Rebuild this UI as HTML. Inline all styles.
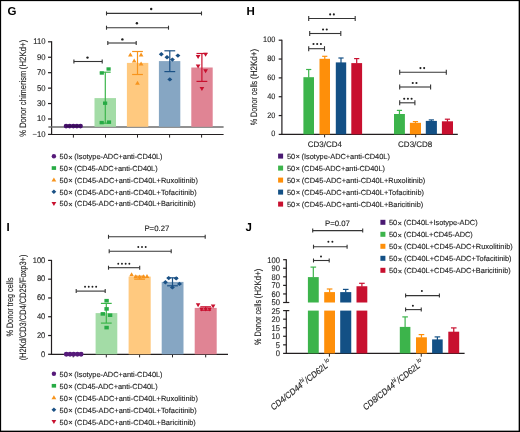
<!DOCTYPE html>
<html><head><meta charset="utf-8"><title>Figure</title>
<style>
html,body{margin:0;padding:0;background:#fff;}
body{width:520px;height:432px;overflow:hidden;}
svg{display:block;font-family:"Liberation Sans", sans-serif;will-change:transform;text-rendering:geometricPrecision;}
</style></head>
<body>
<svg width="520" height="432" viewBox="0 0 520 432">
<rect width="520" height="432" fill="#fff"/>
<text x="7.6" y="15.3" font-size="11.5" fill="#000" font-weight="bold">G</text>
<line x1="51.6" y1="41.31" x2="51.6" y2="134.9" stroke="#231f20" stroke-width="1.2"/>
<line x1="48" y1="41.81" x2="51.6" y2="41.81" stroke="#231f20" stroke-width="1.2"/>
<text x="0" y="0" font-size="8.3" transform="translate(45.6 44.31) scale(0.93 1)" text-anchor="end" fill="#1e1e1e" stroke="#1e1e1e" stroke-width="0.12">110</text>
<line x1="48" y1="57.25" x2="51.6" y2="57.25" stroke="#231f20" stroke-width="1.2"/>
<text x="0" y="0" font-size="8.3" transform="translate(45.6 59.75) scale(0.93 1)" text-anchor="end" fill="#1e1e1e" stroke="#1e1e1e" stroke-width="0.12">90</text>
<line x1="48" y1="72.68" x2="51.6" y2="72.68" stroke="#231f20" stroke-width="1.2"/>
<text x="0" y="0" font-size="8.3" transform="translate(45.6 75.18) scale(0.93 1)" text-anchor="end" fill="#1e1e1e" stroke="#1e1e1e" stroke-width="0.12">70</text>
<line x1="48" y1="88.12" x2="51.6" y2="88.12" stroke="#231f20" stroke-width="1.2"/>
<text x="0" y="0" font-size="8.3" transform="translate(45.6 90.62) scale(0.93 1)" text-anchor="end" fill="#1e1e1e" stroke="#1e1e1e" stroke-width="0.12">50</text>
<line x1="48" y1="103.55" x2="51.6" y2="103.55" stroke="#231f20" stroke-width="1.2"/>
<text x="0" y="0" font-size="8.3" transform="translate(45.6 106.05) scale(0.93 1)" text-anchor="end" fill="#1e1e1e" stroke="#1e1e1e" stroke-width="0.12">30</text>
<line x1="48" y1="118.98" x2="51.6" y2="118.98" stroke="#231f20" stroke-width="1.2"/>
<text x="0" y="0" font-size="8.3" transform="translate(45.6 121.48) scale(0.93 1)" text-anchor="end" fill="#1e1e1e" stroke="#1e1e1e" stroke-width="0.12">10</text>
<line x1="48" y1="134.42" x2="51.6" y2="134.42" stroke="#231f20" stroke-width="1.2"/>
<text x="0" y="0" font-size="8.3" transform="translate(45.6 136.92) scale(0.93 1)" text-anchor="end" fill="#1e1e1e" stroke="#1e1e1e" stroke-width="0.12">−10</text>
<line x1="51" y1="134.5" x2="223.6" y2="134.5" stroke="#231f20" stroke-width="1.2"/>
<line x1="73.4" y1="134.5" x2="73.4" y2="137.6" stroke="#231f20" stroke-width="1"/>
<line x1="105.5" y1="134.5" x2="105.5" y2="137.6" stroke="#231f20" stroke-width="1"/>
<line x1="137.5" y1="134.5" x2="137.5" y2="137.6" stroke="#231f20" stroke-width="1"/>
<line x1="169.6" y1="134.5" x2="169.6" y2="137.6" stroke="#231f20" stroke-width="1"/>
<line x1="201.6" y1="134.5" x2="201.6" y2="137.6" stroke="#231f20" stroke-width="1"/>
<line x1="48.4" y1="127" x2="223.6" y2="127" stroke="#6c6c6c" stroke-width="1.6"/>
<text x="25.9" y="136.7" font-size="9.3" fill="#1e1e1e" textLength="66.1" lengthAdjust="spacingAndGlyphs" transform="rotate(-90 25.9 136.7)" stroke="#1e1e1e" stroke-width="0.12">% Donor chimerism</text>
<text x="25.9" y="69.2" font-size="9.3" fill="#1e1e1e" textLength="29.5" lengthAdjust="spacingAndGlyphs" transform="rotate(-90 25.9 69.2)" stroke="#1e1e1e" stroke-width="0.12">(H2Kd+)</text>
<rect x="94.5" y="98.1" width="21.5" height="28.7" fill="#a3dca6"/>
<rect x="126.9" y="62.9" width="21.4" height="63.9" fill="#ffc97f"/>
<rect x="158.9" y="61.1" width="21.4" height="65.7" fill="#86a6c3"/>
<rect x="191.3" y="67.5" width="21.4" height="59.3" fill="#e08494"/>
<line x1="105.3" y1="72.2" x2="105.3" y2="123.2" stroke="#3cb54b" stroke-width="1.2"/>
<line x1="99.9" y1="72.2" x2="110.7" y2="72.2" stroke="#3cb54b" stroke-width="1.2"/>
<line x1="99.9" y1="123.2" x2="110.7" y2="123.2" stroke="#3cb54b" stroke-width="1.2"/>
<line x1="137.5" y1="51.5" x2="137.5" y2="74.5" stroke="#f7941d" stroke-width="1.2"/>
<line x1="132.1" y1="51.5" x2="142.9" y2="51.5" stroke="#f7941d" stroke-width="1.2"/>
<line x1="132.1" y1="74.5" x2="142.9" y2="74.5" stroke="#f7941d" stroke-width="1.2"/>
<line x1="169.8" y1="50.8" x2="169.8" y2="71.6" stroke="#1b5185" stroke-width="1.2"/>
<line x1="164.4" y1="50.8" x2="175.2" y2="50.8" stroke="#1b5185" stroke-width="1.2"/>
<line x1="164.4" y1="71.6" x2="175.2" y2="71.6" stroke="#1b5185" stroke-width="1.2"/>
<line x1="201.9" y1="53.5" x2="201.9" y2="81.4" stroke="#c8102e" stroke-width="1.2"/>
<line x1="196.5" y1="53.5" x2="207.3" y2="53.5" stroke="#c8102e" stroke-width="1.2"/>
<line x1="196.5" y1="81.4" x2="207.3" y2="81.4" stroke="#c8102e" stroke-width="1.2"/>
<circle cx="66.1" cy="126.1" r="2.4" fill="#46106c"/>
<circle cx="69.7" cy="126.1" r="2.4" fill="#46106c"/>
<circle cx="73.3" cy="126.1" r="2.4" fill="#46106c"/>
<circle cx="76.9" cy="126.1" r="2.4" fill="#46106c"/>
<circle cx="80.5" cy="126.1" r="2.4" fill="#46106c"/>
<line x1="66" y1="126.2" x2="80.4" y2="126.2" stroke="#2a0a40" stroke-width="0.8"/>
<rect x="106.5" y="67.3" width="4.2" height="3.4" fill="#27ab45"/>
<rect x="99.7" y="71.3" width="4.2" height="3.4" fill="#27ab45"/>
<rect x="103" y="101.5" width="4.2" height="3.4" fill="#27ab45"/>
<rect x="99.6" y="120.9" width="4.2" height="3.4" fill="#27ab45"/>
<rect x="106.9" y="120.4" width="4.2" height="3.4" fill="#27ab45"/>
<polygon points="130.4,52.6 128.05,56.6 132.75,56.6" fill="#f7941d"/>
<polygon points="141.1,52.6 138.75,56.6 143.45,56.6" fill="#f7941d"/>
<polygon points="134.2,58.6 131.85,62.6 136.55,62.6" fill="#f7941d"/>
<polygon points="141.1,61.6 138.75,65.6 143.45,65.6" fill="#f7941d"/>
<polygon points="137.5,80.8 135.15,84.8 139.85,84.8" fill="#f7941d"/>
<polygon points="161.3,52.1 163.8,54.3 161.3,56.5 158.8,54.3" fill="#1b5185"/>
<polygon points="177.9,53.4 180.4,55.6 177.9,57.8 175.4,55.6" fill="#1b5185"/>
<polygon points="167,55 169.5,57.2 167,59.4 164.5,57.2" fill="#1b5185"/>
<polygon points="172.4,57.4 174.9,59.6 172.4,61.8 169.9,59.6" fill="#1b5185"/>
<polygon points="169.8,77.2 172.3,79.4 169.8,81.6 167.3,79.4" fill="#1b5185"/>
<polygon points="198.1,59.1 195.75,55.1 200.45,55.1" fill="#c8102e"/>
<polygon points="205.6,56.7 203.25,52.7 207.95,52.7" fill="#c8102e"/>
<polygon points="198.1,68.5 195.75,64.5 200.45,64.5" fill="#c8102e"/>
<polygon points="205.6,73.2 203.25,69.2 207.95,69.2" fill="#c8102e"/>
<polygon points="201.9,91 199.55,87 204.25,87" fill="#c8102e"/>
<line x1="73.9" y1="61.5" x2="102.2" y2="61.5" stroke="#343434" stroke-width="1.1"/>
<line x1="73.9" y1="59.5" x2="73.9" y2="63.5" stroke="#343434" stroke-width="1.1"/>
<line x1="102.2" y1="59.5" x2="102.2" y2="63.5" stroke="#343434" stroke-width="1.1"/>
<circle cx="87.5" cy="57.6" r="1.2" fill="#1e1e1e"/>
<line x1="107.8" y1="43" x2="136.2" y2="43" stroke="#343434" stroke-width="1.1"/>
<line x1="107.8" y1="41" x2="107.8" y2="45" stroke="#343434" stroke-width="1.1"/>
<line x1="136.2" y1="41" x2="136.2" y2="45" stroke="#343434" stroke-width="1.1"/>
<circle cx="122.4" cy="39.4" r="1.2" fill="#1e1e1e"/>
<line x1="106.5" y1="27.7" x2="168.5" y2="27.7" stroke="#343434" stroke-width="1.1"/>
<line x1="106.5" y1="25.7" x2="106.5" y2="29.7" stroke="#343434" stroke-width="1.1"/>
<line x1="168.5" y1="25.7" x2="168.5" y2="29.7" stroke="#343434" stroke-width="1.1"/>
<circle cx="136.9" cy="23.2" r="1.2" fill="#1e1e1e"/>
<line x1="106.5" y1="13.4" x2="201.5" y2="13.4" stroke="#343434" stroke-width="1.1"/>
<line x1="106.5" y1="11.4" x2="106.5" y2="15.4" stroke="#343434" stroke-width="1.1"/>
<line x1="201.5" y1="11.4" x2="201.5" y2="15.4" stroke="#343434" stroke-width="1.1"/>
<circle cx="151.2" cy="9" r="1.2" fill="#1e1e1e"/>
<circle cx="53.9" cy="156.2" r="2.2" fill="#561a7a"/>
<text x="59.6" y="159" font-size="7.42" fill="#1e1e1e" stroke="#1e1e1e" stroke-width="0.12" letter-spacing="-0.02">50<tspan font-size="7.6" dy="0.5" dx="0.4">×</tspan><tspan dy="-0.5" dx="-0.35"> (Isotype-ADC+anti-CD40L)</tspan></text>
<rect x="51.7" y="166.2" width="4.4" height="3.7" fill="#27ab45"/>
<text x="59.6" y="170.85" font-size="7.42" fill="#1e1e1e" stroke="#1e1e1e" stroke-width="0.12" letter-spacing="-0.02">50<tspan font-size="7.6" dy="0.5" dx="0.4">×</tspan><tspan dy="-0.5" dx="-0.35"> (CD45-ADC+anti-CD40L)</tspan></text>
<polygon points="53.9,177.5 51.5,181.5 56.3,181.5" fill="#f7941d"/>
<text x="59.6" y="182.7" font-size="7.42" fill="#1e1e1e" stroke="#1e1e1e" stroke-width="0.12" letter-spacing="0.035">50<tspan font-size="7.6" dy="0.5" dx="0.4">×</tspan><tspan dy="-0.5" dx="-0.35"> (CD45-ADC+anti-CD40L+Ruxolitinib)</tspan></text>
<polygon points="53.9,189.55 56.3,191.75 53.9,193.95 51.5,191.75" fill="#1b5185"/>
<text x="59.6" y="194.55" font-size="7.42" fill="#1e1e1e" stroke="#1e1e1e" stroke-width="0.12" letter-spacing="0.035">50<tspan font-size="7.6" dy="0.5" dx="0.4">×</tspan><tspan dy="-0.5" dx="-0.35"> (CD45-ADC+anti-CD40L+Tofacitinib)</tspan></text>
<polygon points="53.9,206 51.5,202 56.3,202" fill="#c8102e"/>
<text x="59.6" y="206.4" font-size="7.42" fill="#1e1e1e" stroke="#1e1e1e" stroke-width="0.12" letter-spacing="0.035">50<tspan font-size="7.6" dy="0.5" dx="0.4">×</tspan><tspan dy="-0.5" dx="-0.35"> (CD45-ADC+anti-CD40L+Baricitinib)</tspan></text>
<text x="246.5" y="15.3" font-size="11.5" fill="#000" font-weight="bold">H</text>
<line x1="281.9" y1="39.7" x2="281.9" y2="135" stroke="#231f20" stroke-width="1.2"/>
<line x1="278.7" y1="40.2" x2="281.9" y2="40.2" stroke="#231f20" stroke-width="1.2"/>
<text x="0" y="0" font-size="7.9" transform="translate(275.3 42.2) scale(0.93 1)" text-anchor="end" fill="#1e1e1e" stroke="#1e1e1e" stroke-width="0.12">100</text>
<line x1="278.7" y1="59.04" x2="281.9" y2="59.04" stroke="#231f20" stroke-width="1.2"/>
<text x="0" y="0" font-size="7.9" transform="translate(275.3 61.04) scale(0.93 1)" text-anchor="end" fill="#1e1e1e" stroke="#1e1e1e" stroke-width="0.12">80</text>
<line x1="278.7" y1="77.88" x2="281.9" y2="77.88" stroke="#231f20" stroke-width="1.2"/>
<text x="0" y="0" font-size="7.9" transform="translate(275.3 79.88) scale(0.93 1)" text-anchor="end" fill="#1e1e1e" stroke="#1e1e1e" stroke-width="0.12">60</text>
<line x1="278.7" y1="96.72" x2="281.9" y2="96.72" stroke="#231f20" stroke-width="1.2"/>
<text x="0" y="0" font-size="7.9" transform="translate(275.3 98.72) scale(0.93 1)" text-anchor="end" fill="#1e1e1e" stroke="#1e1e1e" stroke-width="0.12">40</text>
<line x1="278.7" y1="115.56" x2="281.9" y2="115.56" stroke="#231f20" stroke-width="1.2"/>
<text x="0" y="0" font-size="7.9" transform="translate(275.3 117.56) scale(0.93 1)" text-anchor="end" fill="#1e1e1e" stroke="#1e1e1e" stroke-width="0.12">20</text>
<line x1="278.7" y1="134.4" x2="281.9" y2="134.4" stroke="#231f20" stroke-width="1.2"/>
<text x="0" y="0" font-size="7.9" transform="translate(275.3 136.4) scale(0.93 1)" text-anchor="end" fill="#1e1e1e" stroke="#1e1e1e" stroke-width="0.12">0</text>
<line x1="281.3" y1="134.4" x2="457.8" y2="134.4" stroke="#231f20" stroke-width="1.2"/>
<line x1="324.6" y1="134.4" x2="324.6" y2="137.4" stroke="#231f20" stroke-width="1"/>
<line x1="415.7" y1="134.4" x2="415.7" y2="137.4" stroke="#231f20" stroke-width="1"/>
<text x="324.8" y="146.9" font-size="8" text-anchor="middle" fill="#1e1e1e" stroke="#1e1e1e" stroke-width="0.12">CD3/CD4</text>
<text x="415.2" y="146.9" font-size="8" text-anchor="middle" fill="#1e1e1e" stroke="#1e1e1e" stroke-width="0.12">CD3/CD8</text>
<text x="257.3" y="125.3" font-size="9.3" fill="#1e1e1e" textLength="44.5" lengthAdjust="spacingAndGlyphs" transform="rotate(-90 257.3 125.3)" stroke="#1e1e1e" stroke-width="0.12">% Donor cells</text>
<text x="257.3" y="79" font-size="9.3" fill="#1e1e1e" textLength="30.2" lengthAdjust="spacingAndGlyphs" transform="rotate(-90 257.3 79)" stroke="#1e1e1e" stroke-width="0.12">(H2Kd+)</text>
<rect x="303.4" y="77.2" width="10.6" height="57.2" fill="#3cb44b"/>
<line x1="308.7" y1="69.5" x2="308.7" y2="77.7" stroke="#3cb44b" stroke-width="1.2"/>
<line x1="306.1" y1="69.5" x2="311.3" y2="69.5" stroke="#3cb44b" stroke-width="1.2"/>
<rect x="319.5" y="58.8" width="10.5" height="75.6" fill="#fe8f0a"/>
<line x1="324.75" y1="56.3" x2="324.75" y2="59.3" stroke="#fe8f0a" stroke-width="1.2"/>
<line x1="322.15" y1="56.3" x2="327.35" y2="56.3" stroke="#fe8f0a" stroke-width="1.2"/>
<rect x="335.8" y="62.4" width="10.4" height="72" fill="#135085"/>
<line x1="341" y1="58" x2="341" y2="62.9" stroke="#135085" stroke-width="1.2"/>
<line x1="338.4" y1="58" x2="343.6" y2="58" stroke="#135085" stroke-width="1.2"/>
<rect x="351.3" y="63.1" width="10.8" height="71.3" fill="#c8102f"/>
<line x1="356.7" y1="58.6" x2="356.7" y2="63.6" stroke="#c8102f" stroke-width="1.2"/>
<line x1="354.1" y1="58.6" x2="359.3" y2="58.6" stroke="#c8102f" stroke-width="1.2"/>
<rect x="394" y="114" width="10.9" height="20.4" fill="#3cb44b"/>
<line x1="399.45" y1="110.4" x2="399.45" y2="114.5" stroke="#3cb44b" stroke-width="1.2"/>
<line x1="396.85" y1="110.4" x2="402.05" y2="110.4" stroke="#3cb44b" stroke-width="1.2"/>
<rect x="409.9" y="122.8" width="11.1" height="11.6" fill="#fe8f0a"/>
<line x1="415.45" y1="121.6" x2="415.45" y2="123.3" stroke="#fe8f0a" stroke-width="1.2"/>
<line x1="412.85" y1="121.6" x2="418.05" y2="121.6" stroke="#fe8f0a" stroke-width="1.2"/>
<rect x="425.8" y="120.9" width="11.1" height="13.5" fill="#135085"/>
<line x1="431.35" y1="119.9" x2="431.35" y2="121.4" stroke="#135085" stroke-width="1.2"/>
<line x1="428.75" y1="119.9" x2="433.95" y2="119.9" stroke="#135085" stroke-width="1.2"/>
<rect x="441.9" y="121.3" width="11.1" height="13.1" fill="#c8102f"/>
<line x1="447.45" y1="119.2" x2="447.45" y2="121.8" stroke="#c8102f" stroke-width="1.2"/>
<line x1="444.85" y1="119.2" x2="450.05" y2="119.2" stroke="#c8102f" stroke-width="1.2"/>
<line x1="308.7" y1="48.7" x2="324.5" y2="48.7" stroke="#343434" stroke-width="1.1"/>
<line x1="308.7" y1="46.2" x2="308.7" y2="51.2" stroke="#343434" stroke-width="1.1"/>
<line x1="324.5" y1="46.2" x2="324.5" y2="51.2" stroke="#343434" stroke-width="1.1"/>
<circle cx="313.5" cy="44" r="1.05" fill="#1e1e1e"/>
<circle cx="317.2" cy="44" r="1.05" fill="#1e1e1e"/>
<circle cx="320.9" cy="44" r="1.05" fill="#1e1e1e"/>
<line x1="309.7" y1="33.5" x2="340.8" y2="33.5" stroke="#343434" stroke-width="1.1"/>
<line x1="309.7" y1="31" x2="309.7" y2="36" stroke="#343434" stroke-width="1.1"/>
<line x1="340.8" y1="31" x2="340.8" y2="36" stroke="#343434" stroke-width="1.1"/>
<circle cx="323.05" cy="29.5" r="1.05" fill="#1e1e1e"/>
<circle cx="326.75" cy="29.5" r="1.05" fill="#1e1e1e"/>
<line x1="308.7" y1="18.5" x2="355.2" y2="18.5" stroke="#343434" stroke-width="1.1"/>
<line x1="308.7" y1="16" x2="308.7" y2="21" stroke="#343434" stroke-width="1.1"/>
<line x1="355.2" y1="16" x2="355.2" y2="21" stroke="#343434" stroke-width="1.1"/>
<circle cx="330.15" cy="14.4" r="1.05" fill="#1e1e1e"/>
<circle cx="333.85" cy="14.4" r="1.05" fill="#1e1e1e"/>
<line x1="399.7" y1="102.8" x2="414.9" y2="102.8" stroke="#343434" stroke-width="1.1"/>
<line x1="399.7" y1="100.3" x2="399.7" y2="105.3" stroke="#343434" stroke-width="1.1"/>
<line x1="414.9" y1="100.3" x2="414.9" y2="105.3" stroke="#343434" stroke-width="1.1"/>
<circle cx="404.2" cy="98.7" r="1.05" fill="#1e1e1e"/>
<circle cx="407.9" cy="98.7" r="1.05" fill="#1e1e1e"/>
<circle cx="411.6" cy="98.7" r="1.05" fill="#1e1e1e"/>
<line x1="399.7" y1="87" x2="430.6" y2="87" stroke="#343434" stroke-width="1.1"/>
<line x1="399.7" y1="84.5" x2="399.7" y2="89.5" stroke="#343434" stroke-width="1.1"/>
<line x1="430.6" y1="84.5" x2="430.6" y2="89.5" stroke="#343434" stroke-width="1.1"/>
<circle cx="412.75" cy="83" r="1.05" fill="#1e1e1e"/>
<circle cx="416.45" cy="83" r="1.05" fill="#1e1e1e"/>
<line x1="399.7" y1="72.2" x2="446.3" y2="72.2" stroke="#343434" stroke-width="1.1"/>
<line x1="399.7" y1="69.7" x2="399.7" y2="74.7" stroke="#343434" stroke-width="1.1"/>
<line x1="446.3" y1="69.7" x2="446.3" y2="74.7" stroke="#343434" stroke-width="1.1"/>
<circle cx="420.45" cy="68.1" r="1.05" fill="#1e1e1e"/>
<circle cx="424.15" cy="68.1" r="1.05" fill="#1e1e1e"/>
<rect x="278.1" y="153.6" width="5" height="5" fill="#4a1a72"/>
<text x="286.9" y="158.9" font-size="7.42" fill="#1e1e1e" stroke="#1e1e1e" stroke-width="0.12" letter-spacing="-0.02">50<tspan font-size="7.6" dy="0.5" dx="0.4">×</tspan><tspan dy="-0.5" dx="-0.35"> (Isotype-ADC+anti-CD40L)</tspan></text>
<rect x="278.1" y="165.6" width="5" height="5" fill="#3cb44b"/>
<text x="286.9" y="170.9" font-size="7.42" fill="#1e1e1e" stroke="#1e1e1e" stroke-width="0.12" letter-spacing="-0.02">50<tspan font-size="7.6" dy="0.5" dx="0.4">×</tspan><tspan dy="-0.5" dx="-0.35"> (CD45-ADC+anti-CD40L)</tspan></text>
<rect x="278.1" y="177.6" width="5" height="5" fill="#fe8f0a"/>
<text x="286.9" y="182.9" font-size="7.42" fill="#1e1e1e" stroke="#1e1e1e" stroke-width="0.12" letter-spacing="0.038">50<tspan font-size="7.6" dy="0.5" dx="0.4">×</tspan><tspan dy="-0.5" dx="-0.35"> (CD45-ADC+anti-CD40L+Ruxolitinib)</tspan></text>
<rect x="278.1" y="189.6" width="5" height="5" fill="#135085"/>
<text x="286.9" y="194.9" font-size="7.42" fill="#1e1e1e" stroke="#1e1e1e" stroke-width="0.12" letter-spacing="0.038">50<tspan font-size="7.6" dy="0.5" dx="0.4">×</tspan><tspan dy="-0.5" dx="-0.35"> (CD45-ADC+anti-CD40L+Tofacitinib)</tspan></text>
<rect x="278.1" y="201.6" width="5" height="5" fill="#c8102f"/>
<text x="286.9" y="206.9" font-size="7.42" fill="#1e1e1e" stroke="#1e1e1e" stroke-width="0.12" letter-spacing="0.038">50<tspan font-size="7.6" dy="0.5" dx="0.4">×</tspan><tspan dy="-0.5" dx="-0.35"> (CD45-ADC+anti-CD40L+Baricitinib)</tspan></text>
<text x="6.4" y="230.8" font-size="11.5" fill="#000" font-weight="bold">I</text>
<line x1="51.5" y1="259.9" x2="51.5" y2="354.9" stroke="#231f20" stroke-width="1.2"/>
<line x1="48.1" y1="260.4" x2="51.5" y2="260.4" stroke="#231f20" stroke-width="1.2"/>
<text x="0" y="0" font-size="8.1" transform="translate(45.3 262.6) scale(0.93 1)" text-anchor="end" fill="#1e1e1e" stroke="#1e1e1e" stroke-width="0.12">100</text>
<line x1="48.1" y1="279.18" x2="51.5" y2="279.18" stroke="#231f20" stroke-width="1.2"/>
<text x="0" y="0" font-size="8.1" transform="translate(45.3 281.38) scale(0.93 1)" text-anchor="end" fill="#1e1e1e" stroke="#1e1e1e" stroke-width="0.12">80</text>
<line x1="48.1" y1="297.96" x2="51.5" y2="297.96" stroke="#231f20" stroke-width="1.2"/>
<text x="0" y="0" font-size="8.1" transform="translate(45.3 300.16) scale(0.93 1)" text-anchor="end" fill="#1e1e1e" stroke="#1e1e1e" stroke-width="0.12">60</text>
<line x1="48.1" y1="316.74" x2="51.5" y2="316.74" stroke="#231f20" stroke-width="1.2"/>
<text x="0" y="0" font-size="8.1" transform="translate(45.3 318.94) scale(0.93 1)" text-anchor="end" fill="#1e1e1e" stroke="#1e1e1e" stroke-width="0.12">40</text>
<line x1="48.1" y1="335.52" x2="51.5" y2="335.52" stroke="#231f20" stroke-width="1.2"/>
<text x="0" y="0" font-size="8.1" transform="translate(45.3 337.72) scale(0.93 1)" text-anchor="end" fill="#1e1e1e" stroke="#1e1e1e" stroke-width="0.12">20</text>
<line x1="48.1" y1="354.3" x2="51.5" y2="354.3" stroke="#231f20" stroke-width="1.2"/>
<text x="0" y="0" font-size="8.1" transform="translate(45.3 356.5) scale(0.93 1)" text-anchor="end" fill="#1e1e1e" stroke="#1e1e1e" stroke-width="0.12">0</text>
<line x1="50.9" y1="354.3" x2="228" y2="354.3" stroke="#231f20" stroke-width="1.2"/>
<line x1="73.2" y1="354.3" x2="73.2" y2="357.4" stroke="#231f20" stroke-width="1"/>
<line x1="106.3" y1="354.3" x2="106.3" y2="357.4" stroke="#231f20" stroke-width="1"/>
<line x1="139.6" y1="354.3" x2="139.6" y2="357.4" stroke="#231f20" stroke-width="1"/>
<line x1="172.5" y1="354.3" x2="172.5" y2="357.4" stroke="#231f20" stroke-width="1"/>
<line x1="205.7" y1="354.3" x2="205.7" y2="357.4" stroke="#231f20" stroke-width="1"/>
<text x="13" y="307" font-size="9.3" text-anchor="middle" fill="#1e1e1e" textLength="59.1" lengthAdjust="spacingAndGlyphs" transform="rotate(-90 13 307)" stroke="#1e1e1e" stroke-width="0.12">% Donor treg cells</text>
<text x="26.5" y="307.45" font-size="9.3" text-anchor="middle" fill="#1e1e1e" textLength="105.7" lengthAdjust="spacingAndGlyphs" transform="rotate(-90 26.5 307.45)" stroke="#1e1e1e" stroke-width="0.12">(H2Kd/CD3/CD4/CD25/Foxp3+)</text>
<rect x="95.6" y="313.1" width="21.7" height="41.2" fill="#a3dca6"/>
<rect x="128.6" y="276.6" width="22.1" height="77.7" fill="#ffc97f"/>
<rect x="161.7" y="281.9" width="21.8" height="72.4" fill="#86a6c3"/>
<rect x="194.7" y="307.9" width="22" height="46.4" fill="#e08494"/>
<line x1="106.3" y1="303.4" x2="106.3" y2="323.1" stroke="#3cb54b" stroke-width="1.2"/>
<line x1="100.9" y1="303.4" x2="111.7" y2="303.4" stroke="#3cb54b" stroke-width="1.2"/>
<line x1="100.9" y1="323.1" x2="111.7" y2="323.1" stroke="#3cb54b" stroke-width="1.2"/>
<line x1="139.6" y1="276.2" x2="139.6" y2="279.2" stroke="#f7941d" stroke-width="1.2"/>
<line x1="134.2" y1="276.2" x2="145" y2="276.2" stroke="#f7941d" stroke-width="1.2"/>
<line x1="134.2" y1="279.2" x2="145" y2="279.2" stroke="#f7941d" stroke-width="1.2"/>
<line x1="172.5" y1="277.8" x2="172.5" y2="285.8" stroke="#1b5185" stroke-width="1.2"/>
<line x1="167.1" y1="277.8" x2="177.9" y2="277.8" stroke="#1b5185" stroke-width="1.2"/>
<line x1="167.1" y1="285.8" x2="177.9" y2="285.8" stroke="#1b5185" stroke-width="1.2"/>
<line x1="205.7" y1="306.8" x2="205.7" y2="310.2" stroke="#c8102e" stroke-width="1.2"/>
<line x1="200.3" y1="306.8" x2="211.1" y2="306.8" stroke="#c8102e" stroke-width="1.2"/>
<line x1="200.3" y1="310.2" x2="211.1" y2="310.2" stroke="#c8102e" stroke-width="1.2"/>
<circle cx="66.3" cy="354.3" r="2.45" fill="#561a7a"/>
<circle cx="70" cy="354.3" r="2.45" fill="#561a7a"/>
<circle cx="73.7" cy="354.3" r="2.45" fill="#561a7a"/>
<circle cx="77.4" cy="354.3" r="2.45" fill="#561a7a"/>
<circle cx="81.1" cy="354.3" r="2.45" fill="#561a7a"/>
<rect x="104.4" y="298.9" width="4.4" height="3.6" fill="#27ab45"/>
<rect x="104.4" y="307.1" width="4.4" height="3.6" fill="#27ab45"/>
<rect x="100.6" y="312.1" width="4.4" height="3.6" fill="#27ab45"/>
<rect x="107.9" y="313.4" width="4.4" height="3.6" fill="#27ab45"/>
<rect x="104.4" y="325.8" width="4.4" height="3.6" fill="#27ab45"/>
<polygon points="131.6,272.3 129.3,276.3 133.9,276.3" fill="#f7941d"/>
<polygon points="135.8,274.2 133.5,278.2 138.1,278.2" fill="#f7941d"/>
<polygon points="139.6,274.6 137.3,278.6 141.9,278.6" fill="#f7941d"/>
<polygon points="143.4,274.2 141.1,278.2 145.7,278.2" fill="#f7941d"/>
<polygon points="147,273.9 144.7,277.9 149.3,277.9" fill="#f7941d"/>
<polygon points="168.7,275.9 171.2,278.1 168.7,280.3 166.2,278.1" fill="#1b5185"/>
<polygon points="176.2,276.2 178.7,278.4 176.2,280.6 173.7,278.4" fill="#1b5185"/>
<polygon points="165.4,280 167.9,282.2 165.4,284.4 162.9,282.2" fill="#1b5185"/>
<polygon points="179.5,281.7 182,283.9 179.5,286.1 177,283.9" fill="#1b5185"/>
<polygon points="172.4,285.2 174.9,287.4 172.4,289.6 169.9,287.4" fill="#1b5185"/>
<polygon points="198.1,307.3 195.8,303.3 200.4,303.3" fill="#c8102e"/>
<polygon points="213.1,308.5 210.8,304.5 215.4,304.5" fill="#c8102e"/>
<polygon points="201.6,311.4 199.3,307.4 203.9,307.4" fill="#c8102e"/>
<polygon points="205.7,311.6 203.4,307.6 208,307.6" fill="#c8102e"/>
<polygon points="209.6,311.4 207.3,307.4 211.9,307.4" fill="#c8102e"/>
<line x1="76.2" y1="291.1" x2="105.2" y2="291.1" stroke="#343434" stroke-width="1.1"/>
<line x1="76.2" y1="289.1" x2="76.2" y2="293.1" stroke="#343434" stroke-width="1.1"/>
<line x1="105.2" y1="289.1" x2="105.2" y2="293.1" stroke="#343434" stroke-width="1.1"/>
<circle cx="85.05" cy="286.7" r="0.95" fill="#1e1e1e"/>
<circle cx="88.75" cy="286.7" r="0.95" fill="#1e1e1e"/>
<circle cx="92.45" cy="286.7" r="0.95" fill="#1e1e1e"/>
<circle cx="96.15" cy="286.7" r="0.95" fill="#1e1e1e"/>
<line x1="108.5" y1="267.7" x2="139.7" y2="267.7" stroke="#343434" stroke-width="1.1"/>
<line x1="108.5" y1="265.7" x2="108.5" y2="269.7" stroke="#343434" stroke-width="1.1"/>
<line x1="139.7" y1="265.7" x2="139.7" y2="269.7" stroke="#343434" stroke-width="1.1"/>
<circle cx="118.25" cy="263.8" r="0.95" fill="#1e1e1e"/>
<circle cx="121.95" cy="263.8" r="0.95" fill="#1e1e1e"/>
<circle cx="125.65" cy="263.8" r="0.95" fill="#1e1e1e"/>
<circle cx="129.35" cy="263.8" r="0.95" fill="#1e1e1e"/>
<line x1="109.2" y1="251.2" x2="171.2" y2="251.2" stroke="#343434" stroke-width="1.1"/>
<line x1="109.2" y1="249.2" x2="109.2" y2="253.2" stroke="#343434" stroke-width="1.1"/>
<line x1="171.2" y1="249.2" x2="171.2" y2="253.2" stroke="#343434" stroke-width="1.1"/>
<circle cx="138.3" cy="247" r="0.95" fill="#1e1e1e"/>
<circle cx="142" cy="247" r="0.95" fill="#1e1e1e"/>
<circle cx="145.7" cy="247" r="0.95" fill="#1e1e1e"/>
<line x1="108.5" y1="236.8" x2="205.2" y2="236.8" stroke="#343434" stroke-width="1.1"/>
<line x1="108.5" y1="234.8" x2="108.5" y2="238.8" stroke="#343434" stroke-width="1.1"/>
<line x1="205.2" y1="234.8" x2="205.2" y2="238.8" stroke="#343434" stroke-width="1.1"/>
<text x="156.9" y="231.2" font-size="7.8" text-anchor="middle" fill="#1e1e1e" stroke="#1e1e1e" stroke-width="0.12">P=0.27</text>
<circle cx="53.9" cy="373.8" r="2.2" fill="#561a7a"/>
<text x="59.6" y="376.6" font-size="7.42" fill="#1e1e1e" stroke="#1e1e1e" stroke-width="0.12" letter-spacing="-0.02">50<tspan font-size="7.6" dy="0.5" dx="0.4">×</tspan><tspan dy="-0.5" dx="-0.35"> (Isotype-ADC+anti-CD40L)</tspan></text>
<rect x="51.7" y="383.93" width="4.4" height="3.7" fill="#27ab45"/>
<text x="59.6" y="388.58" font-size="7.42" fill="#1e1e1e" stroke="#1e1e1e" stroke-width="0.12" letter-spacing="-0.02">50<tspan font-size="7.6" dy="0.5" dx="0.4">×</tspan><tspan dy="-0.5" dx="-0.35"> (CD45-ADC+anti-CD40L)</tspan></text>
<polygon points="53.9,395.36 51.5,399.36 56.3,399.36" fill="#f7941d"/>
<text x="59.6" y="400.56" font-size="7.42" fill="#1e1e1e" stroke="#1e1e1e" stroke-width="0.12" letter-spacing="0.035">50<tspan font-size="7.6" dy="0.5" dx="0.4">×</tspan><tspan dy="-0.5" dx="-0.35"> (CD45-ADC+anti-CD40L+Ruxolitinib)</tspan></text>
<polygon points="53.9,407.54 56.3,409.74 53.9,411.94 51.5,409.74" fill="#1b5185"/>
<text x="59.6" y="412.54" font-size="7.42" fill="#1e1e1e" stroke="#1e1e1e" stroke-width="0.12" letter-spacing="0.035">50<tspan font-size="7.6" dy="0.5" dx="0.4">×</tspan><tspan dy="-0.5" dx="-0.35"> (CD45-ADC+anti-CD40L+Tofacitinib)</tspan></text>
<polygon points="53.9,424.12 51.5,420.12 56.3,420.12" fill="#c8102e"/>
<text x="59.6" y="424.52" font-size="7.42" fill="#1e1e1e" stroke="#1e1e1e" stroke-width="0.12" letter-spacing="0.035">50<tspan font-size="7.6" dy="0.5" dx="0.4">×</tspan><tspan dy="-0.5" dx="-0.35"> (CD45-ADC+anti-CD40L+Baricitinib)</tspan></text>
<text x="245.6" y="231.3" font-size="11.5" fill="#000" font-weight="bold">J</text>
<line x1="286.3" y1="259.2" x2="286.3" y2="302.5" stroke="#231f20" stroke-width="1.2"/>
<line x1="286.3" y1="310.6" x2="286.3" y2="354" stroke="#231f20" stroke-width="1.2"/>
<line x1="283.1" y1="259.7" x2="286.3" y2="259.7" stroke="#231f20" stroke-width="1.2"/>
<text x="0" y="0" font-size="8.2" transform="translate(280 262.6) scale(0.93 1)" text-anchor="end" fill="#1e1e1e" stroke="#1e1e1e" stroke-width="0.12">100</text>
<line x1="283.1" y1="268.26" x2="286.3" y2="268.26" stroke="#231f20" stroke-width="1.2"/>
<text x="0" y="0" font-size="8.2" transform="translate(280 271.16) scale(0.93 1)" text-anchor="end" fill="#1e1e1e" stroke="#1e1e1e" stroke-width="0.12">90</text>
<line x1="283.1" y1="276.82" x2="286.3" y2="276.82" stroke="#231f20" stroke-width="1.2"/>
<text x="0" y="0" font-size="8.2" transform="translate(280 279.72) scale(0.93 1)" text-anchor="end" fill="#1e1e1e" stroke="#1e1e1e" stroke-width="0.12">80</text>
<line x1="283.1" y1="285.38" x2="286.3" y2="285.38" stroke="#231f20" stroke-width="1.2"/>
<text x="0" y="0" font-size="8.2" transform="translate(280 288.28) scale(0.93 1)" text-anchor="end" fill="#1e1e1e" stroke="#1e1e1e" stroke-width="0.12">70</text>
<line x1="283.1" y1="293.94" x2="286.3" y2="293.94" stroke="#231f20" stroke-width="1.2"/>
<text x="0" y="0" font-size="8.2" transform="translate(280 296.84) scale(0.93 1)" text-anchor="end" fill="#1e1e1e" stroke="#1e1e1e" stroke-width="0.12">60</text>
<line x1="283.1" y1="302.5" x2="289.3" y2="302.5" stroke="#231f20" stroke-width="1.2"/>
<text x="0" y="0" font-size="8.2" transform="translate(280 305.4) scale(0.93 1)" text-anchor="end" fill="#1e1e1e" stroke="#1e1e1e" stroke-width="0.12">50</text>
<line x1="283.1" y1="310.6" x2="289.3" y2="310.6" stroke="#231f20" stroke-width="1.2"/>
<text x="0" y="0" font-size="8.2" transform="translate(280 313.5) scale(0.93 1)" text-anchor="end" fill="#1e1e1e" stroke="#1e1e1e" stroke-width="0.12">25</text>
<line x1="283.1" y1="319.16" x2="286.3" y2="319.16" stroke="#231f20" stroke-width="1.2"/>
<text x="0" y="0" font-size="8.2" transform="translate(280 322.06) scale(0.93 1)" text-anchor="end" fill="#1e1e1e" stroke="#1e1e1e" stroke-width="0.12">20</text>
<line x1="283.1" y1="327.72" x2="286.3" y2="327.72" stroke="#231f20" stroke-width="1.2"/>
<text x="0" y="0" font-size="8.2" transform="translate(280 330.62) scale(0.93 1)" text-anchor="end" fill="#1e1e1e" stroke="#1e1e1e" stroke-width="0.12">15</text>
<line x1="283.1" y1="336.28" x2="286.3" y2="336.28" stroke="#231f20" stroke-width="1.2"/>
<text x="0" y="0" font-size="8.2" transform="translate(280 339.18) scale(0.93 1)" text-anchor="end" fill="#1e1e1e" stroke="#1e1e1e" stroke-width="0.12">10</text>
<line x1="283.1" y1="344.84" x2="286.3" y2="344.84" stroke="#231f20" stroke-width="1.2"/>
<text x="0" y="0" font-size="8.2" transform="translate(280 347.74) scale(0.93 1)" text-anchor="end" fill="#1e1e1e" stroke="#1e1e1e" stroke-width="0.12">5</text>
<line x1="283.1" y1="353.4" x2="286.3" y2="353.4" stroke="#231f20" stroke-width="1.2"/>
<text x="0" y="0" font-size="8.2" transform="translate(280 356.3) scale(0.93 1)" text-anchor="end" fill="#1e1e1e" stroke="#1e1e1e" stroke-width="0.12">0</text>
<line x1="285.7" y1="353.4" x2="464.6" y2="353.4" stroke="#231f20" stroke-width="1.2"/>
<line x1="329.4" y1="353.4" x2="329.4" y2="356.7" stroke="#231f20" stroke-width="1"/>
<line x1="421.25" y1="353.4" x2="421.25" y2="356.7" stroke="#231f20" stroke-width="1"/>
<text x="261.4" y="345" font-size="9.3" fill="#1e1e1e" textLength="45.1" lengthAdjust="spacingAndGlyphs" transform="rotate(-90 261.4 345)" stroke="#1e1e1e" stroke-width="0.12">% Donor cells</text>
<text x="261.4" y="298.2" font-size="9.3" fill="#1e1e1e" textLength="29.6" lengthAdjust="spacingAndGlyphs" transform="rotate(-90 261.4 298.2)" stroke="#1e1e1e" stroke-width="0.12">(H2Kd+)</text>
<rect x="307.9" y="277.1" width="10.85" height="25.4" fill="#3cb44b"/>
<rect x="307.9" y="310.6" width="10.85" height="42.8" fill="#3cb44b"/>
<line x1="313.32" y1="267.1" x2="313.32" y2="277.6" stroke="#3cb44b" stroke-width="1.2"/>
<line x1="310.52" y1="267.1" x2="316.12" y2="267.1" stroke="#3cb44b" stroke-width="1.2"/>
<rect x="324.2" y="292.1" width="10.8" height="10.4" fill="#fe8f0a"/>
<rect x="324.2" y="310.6" width="10.8" height="42.8" fill="#fe8f0a"/>
<line x1="329.6" y1="289" x2="329.6" y2="292.6" stroke="#fe8f0a" stroke-width="1.2"/>
<line x1="326.8" y1="289" x2="332.4" y2="289" stroke="#fe8f0a" stroke-width="1.2"/>
<rect x="340.2" y="292.1" width="11.05" height="10.4" fill="#135085"/>
<rect x="340.2" y="310.6" width="11.05" height="42.8" fill="#135085"/>
<line x1="345.73" y1="289.4" x2="345.73" y2="292.6" stroke="#135085" stroke-width="1.2"/>
<line x1="342.93" y1="289.4" x2="348.53" y2="289.4" stroke="#135085" stroke-width="1.2"/>
<rect x="356.5" y="286.25" width="10.8" height="16.25" fill="#c8102f"/>
<rect x="356.5" y="310.6" width="10.8" height="42.8" fill="#c8102f"/>
<line x1="361.9" y1="283.3" x2="361.9" y2="286.75" stroke="#c8102f" stroke-width="1.2"/>
<line x1="359.1" y1="283.3" x2="364.7" y2="283.3" stroke="#c8102f" stroke-width="1.2"/>
<rect x="399.8" y="326.9" width="10.6" height="26.5" fill="#3cb44b"/>
<line x1="405.1" y1="316.9" x2="405.1" y2="327.4" stroke="#3cb44b" stroke-width="1.2"/>
<line x1="402.3" y1="316.9" x2="407.9" y2="316.9" stroke="#3cb44b" stroke-width="1.2"/>
<rect x="416" y="337.3" width="10.9" height="16.1" fill="#fe8f0a"/>
<line x1="421.45" y1="334.6" x2="421.45" y2="337.8" stroke="#fe8f0a" stroke-width="1.2"/>
<line x1="418.65" y1="334.6" x2="424.25" y2="334.6" stroke="#fe8f0a" stroke-width="1.2"/>
<rect x="432.1" y="339.4" width="10.6" height="14" fill="#135085"/>
<line x1="437.4" y1="336.9" x2="437.4" y2="339.9" stroke="#135085" stroke-width="1.2"/>
<line x1="434.6" y1="336.9" x2="440.2" y2="336.9" stroke="#135085" stroke-width="1.2"/>
<rect x="448.3" y="331.7" width="10.9" height="21.7" fill="#c8102f"/>
<line x1="453.75" y1="327.9" x2="453.75" y2="332.2" stroke="#c8102f" stroke-width="1.2"/>
<line x1="450.95" y1="327.9" x2="456.55" y2="327.9" stroke="#c8102f" stroke-width="1.2"/>
<line x1="312.7" y1="230.6" x2="362.7" y2="230.6" stroke="#343434" stroke-width="1.1"/>
<line x1="312.7" y1="228.6" x2="312.7" y2="232.6" stroke="#343434" stroke-width="1.1"/>
<line x1="362.7" y1="228.6" x2="362.7" y2="232.6" stroke="#343434" stroke-width="1.1"/>
<text x="337.5" y="225.8" font-size="7.8" text-anchor="middle" fill="#1e1e1e" stroke="#1e1e1e" stroke-width="0.12">P=0.07</text>
<line x1="313.5" y1="246.7" x2="347.1" y2="246.7" stroke="#343434" stroke-width="1.1"/>
<line x1="313.5" y1="244.7" x2="313.5" y2="248.7" stroke="#343434" stroke-width="1.1"/>
<line x1="347.1" y1="244.7" x2="347.1" y2="248.7" stroke="#343434" stroke-width="1.1"/>
<circle cx="328.4" cy="241.7" r="1" fill="#1e1e1e"/>
<circle cx="332.4" cy="241.7" r="1" fill="#1e1e1e"/>
<line x1="313.5" y1="260.5" x2="329.2" y2="260.5" stroke="#343434" stroke-width="1.1"/>
<line x1="313.5" y1="258.5" x2="313.5" y2="262.5" stroke="#343434" stroke-width="1.1"/>
<line x1="329.2" y1="258.5" x2="329.2" y2="262.5" stroke="#343434" stroke-width="1.1"/>
<circle cx="321" cy="256.6" r="1" fill="#1e1e1e"/>
<line x1="405.6" y1="295.6" x2="439.4" y2="295.6" stroke="#343434" stroke-width="1.1"/>
<line x1="405.6" y1="293.6" x2="405.6" y2="297.6" stroke="#343434" stroke-width="1.1"/>
<line x1="439.4" y1="293.6" x2="439.4" y2="297.6" stroke="#343434" stroke-width="1.1"/>
<circle cx="421.9" cy="291" r="1" fill="#1e1e1e"/>
<line x1="405.6" y1="309.6" x2="421.25" y2="309.6" stroke="#343434" stroke-width="1.1"/>
<line x1="405.6" y1="307.6" x2="405.6" y2="311.6" stroke="#343434" stroke-width="1.1"/>
<line x1="421.25" y1="307.6" x2="421.25" y2="311.6" stroke="#343434" stroke-width="1.1"/>
<circle cx="412.9" cy="305.8" r="1" fill="#1e1e1e"/>
<text x="0" y="0" font-size="8.8" font-style="italic" fill="#1e1e1e" stroke="#1e1e1e" stroke-width="0.12" transform="translate(273.6 410.5) rotate(-38.6) scale(0.9 1)">CD4/CD44<tspan font-size="6.0" dy="-4.0" dx="0.4">hi</tspan><tspan dy="4.0" dx="0.6">/CD62L</tspan><tspan font-size="6.0" dy="-4.0" dx="0.5">lo</tspan></text>
<text x="0" y="0" font-size="8.8" font-style="italic" fill="#1e1e1e" stroke="#1e1e1e" stroke-width="0.12" transform="translate(365.7 410.5) rotate(-38.6) scale(0.9 1)">CD8/CD44<tspan font-size="6.0" dy="-4.0" dx="0.4">hi</tspan><tspan dy="4.0" dx="0.6">/CD62L</tspan><tspan font-size="6.0" dy="-4.0" dx="0.5">lo</tspan></text>
<rect x="380.4" y="219.8" width="5" height="5" fill="#4a1a72"/>
<text x="389" y="225.1" font-size="7.42" fill="#1e1e1e" stroke="#1e1e1e" stroke-width="0.12" letter-spacing="-0.02">50<tspan font-size="7.6" dy="0.5" dx="0.4">×</tspan><tspan dy="-0.5" dx="-0.35"> (CD40L+Isotype-ADC)</tspan></text>
<rect x="380.4" y="231.8" width="5" height="5" fill="#3cb44b"/>
<text x="389" y="237.1" font-size="7.42" fill="#1e1e1e" stroke="#1e1e1e" stroke-width="0.12" letter-spacing="-0.02">50<tspan font-size="7.6" dy="0.5" dx="0.4">×</tspan><tspan dy="-0.5" dx="-0.35"> (CD40L+CD45-ADC)</tspan></text>
<rect x="380.4" y="243.8" width="5" height="5" fill="#fe8f0a"/>
<text x="389" y="249.1" font-size="7.42" fill="#1e1e1e" stroke="#1e1e1e" stroke-width="0.12" letter-spacing="0.038">50<tspan font-size="7.6" dy="0.5" dx="0.4">×</tspan><tspan dy="-0.5" dx="-0.35"> (CD40L+CD45-ADC+Ruxolitinib)</tspan></text>
<rect x="380.4" y="255.8" width="5" height="5" fill="#135085"/>
<text x="389" y="261.1" font-size="7.42" fill="#1e1e1e" stroke="#1e1e1e" stroke-width="0.12" letter-spacing="0.038">50<tspan font-size="7.6" dy="0.5" dx="0.4">×</tspan><tspan dy="-0.5" dx="-0.35"> (CD40L+CD45-ADC+Tofacitinib)</tspan></text>
<rect x="380.4" y="267.8" width="5" height="5" fill="#c8102f"/>
<text x="389" y="273.1" font-size="7.42" fill="#1e1e1e" stroke="#1e1e1e" stroke-width="0.12" letter-spacing="0.038">50<tspan font-size="7.6" dy="0.5" dx="0.4">×</tspan><tspan dy="-0.5" dx="-0.35"> (CD40L+CD45-ADC+Baricitinib)</tspan></text>
<rect x="0" y="0" width="520" height="1" fill="#000"/>
<rect x="0" y="0" width="1" height="432" fill="#000"/>
<rect x="519" y="0" width="1" height="432" fill="#000"/>
<rect x="0" y="431" width="520" height="1" fill="#000"/>
<rect x="518" y="0" width="1" height="432" fill="#000" opacity="0.35"/>
<rect x="0" y="430" width="520" height="1" fill="#000" opacity="0.35"/>
<rect x="1" y="1" width="1" height="430" fill="#000" opacity="0.12"/>
<rect x="1" y="1" width="518" height="1" fill="#000" opacity="0.12"/>
</svg>
</body></html>
